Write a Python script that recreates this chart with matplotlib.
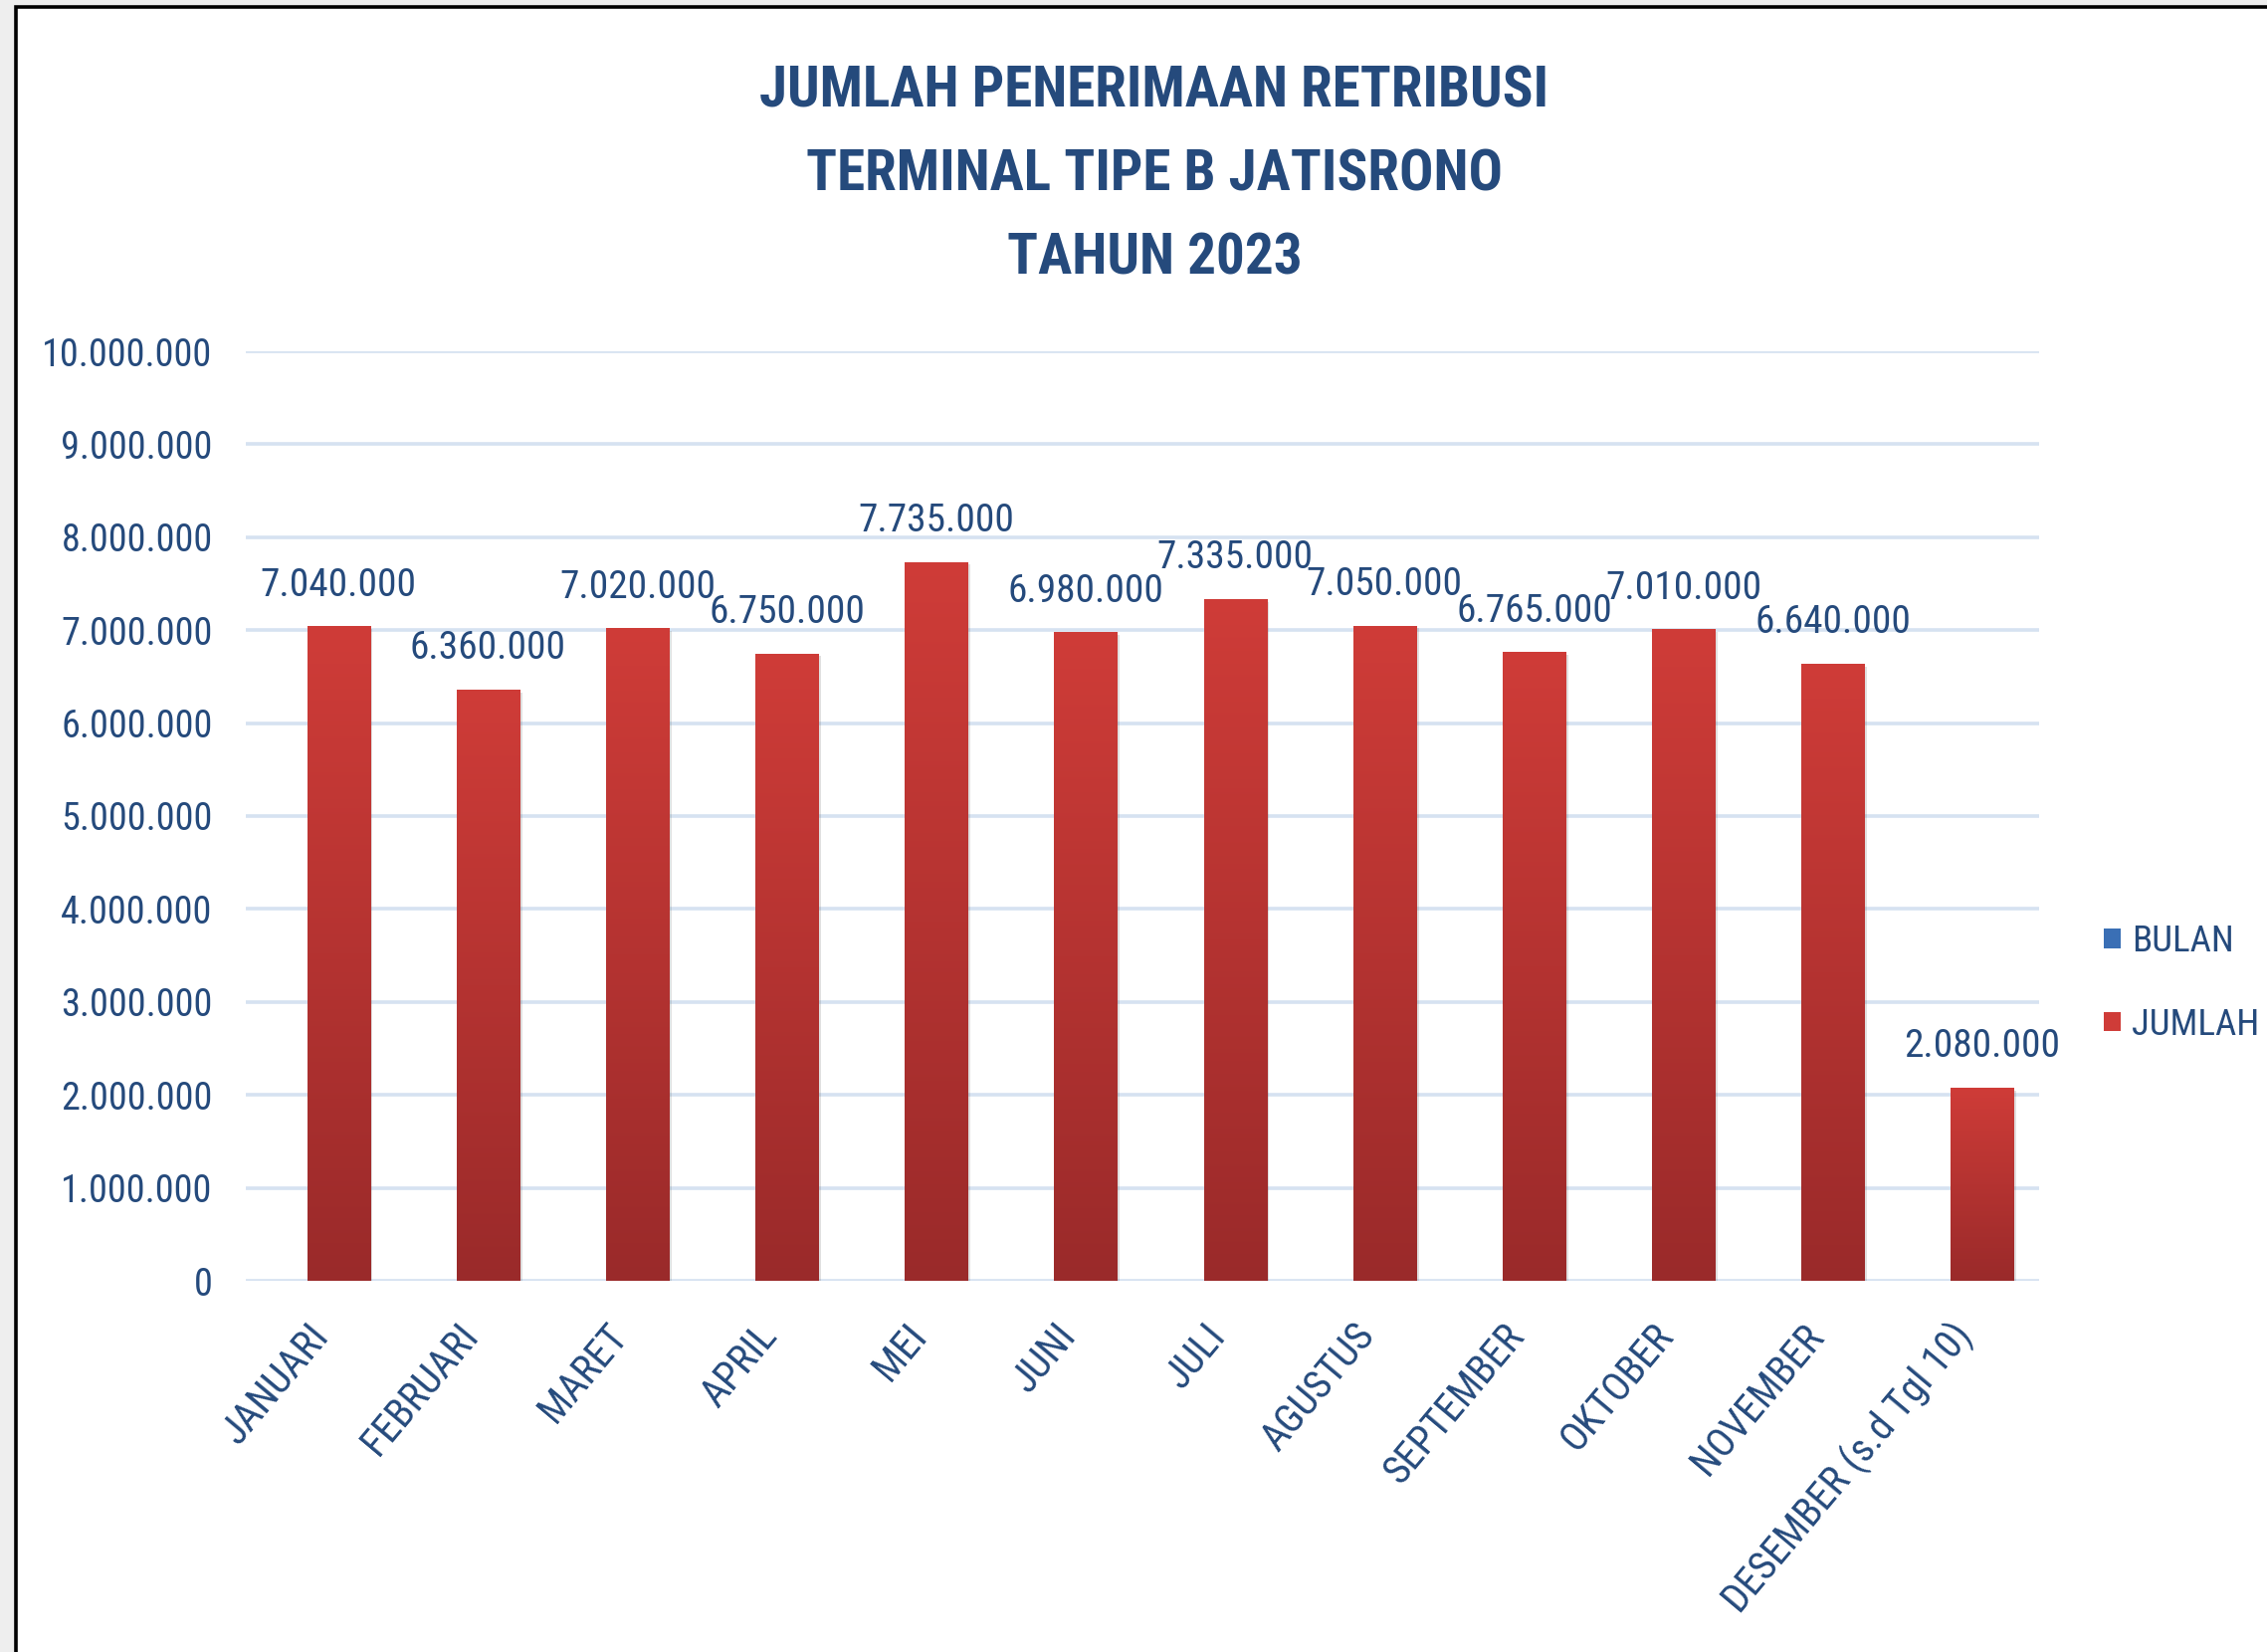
import matplotlib
matplotlib.use("Agg")
import matplotlib.pyplot as plt
import numpy as np
from matplotlib.patches import Rectangle, Patch
from matplotlib import font_manager as fm
from matplotlib.colors import LinearSegmentedColormap
from matplotlib.textpath import TextPath
from matplotlib.font_manager import FontProperties
import matplotlib.patheffects as pe
import matplotlib.transforms as mtransforms

# ---------------- data ----------------
months = ["JANUARI", "FEBRUARI", "MARET", "APRIL", "MEI", "JUNI", "JULI",
          "AGUSTUS", "SEPTEMBER", "OKTOBER", "NOVEMBER", "DESEMBER (s.d Tgl 10)"]
jumlah = [7040000, 6360000, 7020000, 6750000, 7735000, 6980000, 7335000,
          7050000, 6765000, 7010000, 6640000, 2080000]
y_ticks = [0, 1000000, 2000000, 3000000, 4000000, 5000000, 6000000,
           7000000, 8000000, 9000000, 10000000]
title_lines = ["JUMLAH PENERIMAAN RETRIBUSI", "TERMINAL TIPE B JATISRONO", "TAHUN 2023"]
legend_labels = ["BULAN", "JUMLAH"]

# ---------------- fonts ----------------
W, H = 2278, 1660
names = {f.name for f in fm.fontManager.ttflist}
FONT = "Liberation Sans"
for cand in ["Liberation Sans Narrow", "Roboto Condensed", "Open Sans Condensed",
             "Noto Sans Condensed", "DejaVu Sans Condensed"]:
    if cand in names:
        FONT = cand
        break
plt.rcParams["font.family"] = [FONT, "DejaVu Sans"]


def fit_size(sample, width_px, height_px, bold=False):
    """Font size (pt) whose ink width/height best fits the reference sizes."""
    fp = FontProperties(family=FONT, weight="bold" if bold else "normal")
    ext = TextPath((0, 0), sample, size=100, prop=fp).get_extents()
    s_w = width_px * 0.72 * 100 / ext.width
    s_h = height_px * 0.72 * 100 / ext.height
    return min(s_w, 1.08 * s_h)


TXT = "#254A7C"
GRID = "#D6E2F1"
RED_TOP, RED_BOT = "#CF3C38", "#9A2A2A"
BLUE = "#3A6FB5"

fs_tick = fit_size("10.000.000", 166, 29)
fs_data = fit_size("7.040.000", 153, 28)
fs_title = fit_size(title_lines[0], 789, 46, bold=True)
fs_leg = fit_size("JUMLAH", 124, 28)
fs_x = fit_size("NOVEMBER", 180, 29)


def fmt(v):
    return f"{v:,.0f}".replace(",", ".")


fig = plt.figure(figsize=(W / 100, H / 100), dpi=100, facecolor="#EEEEEE")
# white panel with black frame (top / left edges visible)
fig.patches.append(Rectangle((16 / W, -0.1), 1.2, 1 - 7 / H + 0.1,
                             transform=fig.transFigure, facecolor="white",
                             edgecolor="black", lw=2.6, zorder=-10))

ax = fig.add_axes([247 / W, 373 / H, 1802 / W, 934 / H])
ax.set_facecolor("none")
x = np.arange(len(months))

bars = ax.bar(x, jumlah, width=0.42, color=RED_BOT, zorder=2,
              path_effects=[pe.SimplePatchShadow(offset=(2, -2), alpha=0.18,
                                                 shadow_rgbFace="#555555"),
                            pe.Normal()])
cmap = LinearSegmentedColormap.from_list("redgrad", [RED_BOT, RED_TOP])
grad = np.linspace(0, 1, 256).reshape(-1, 1)
for b in bars:
    x0, w, h = b.get_x(), b.get_width(), b.get_height()
    im = ax.imshow(grad, extent=[x0, x0 + w, 0, h], origin="lower",
                   aspect="auto", cmap=cmap, zorder=3, interpolation="bicubic")
    im.set_clip_path(b)

for i, v in enumerate(jumlah):
    ax.annotate(fmt(v), (i, v), xytext=(0, 22), textcoords="offset points",
                ha="center", va="baseline", fontsize=fs_data, color=TXT, zorder=5)

ax.set_xlim(-0.62, len(months) - 0.62)
ax.set_ylim(0, 10000000)
ax.set_yticks(y_ticks)
ax.set_yticklabels([fmt(t) for t in y_ticks])
ax.yaxis.grid(True, color=GRID, lw=2.6)
ax.set_axisbelow(True)
for s in ax.spines.values():
    s.set_visible(False)
ax.tick_params(axis="y", length=0, pad=24, labelsize=fs_tick, labelcolor=TXT)

ax.set_xticks(x)
ax.set_xticklabels(months, rotation=50, ha="right", va="center",
                   rotation_mode="anchor")
ax.tick_params(axis="x", length=0, pad=35, labelsize=fs_x, labelcolor=TXT)
shift = mtransforms.ScaledTranslation(-17 / 100, 0, fig.dpi_scale_trans)
for lab in ax.get_xticklabels():
    lab.set_transform(lab.get_transform() + shift)

# title
ys = [1 - 108 / H, 1 - 191 / H, 1 - 275 / H]
for line, yy in zip(title_lines, ys):
    fig.text(1160 / W, yy, line, ha="center", va="baseline", fontsize=fs_title,
             fontweight="bold", color=TXT)

# legend
handles = [Patch(facecolor=BLUE, edgecolor="none"),
           Patch(facecolor=RED_TOP, edgecolor="none")]
fig.legend(handles, legend_labels, loc="center left",
           bbox_to_anchor=(2114 / W, 1 - 988 / H), frameon=False,
           fontsize=fs_leg, labelcolor=TXT, handlelength=12 / fs_leg,
           handleheight=12 / fs_leg, handletextpad=0.3,
           labelspacing=1.28, borderpad=0, borderaxespad=0)

fig.savefig("out.png", dpi=100, facecolor=fig.get_facecolor())
